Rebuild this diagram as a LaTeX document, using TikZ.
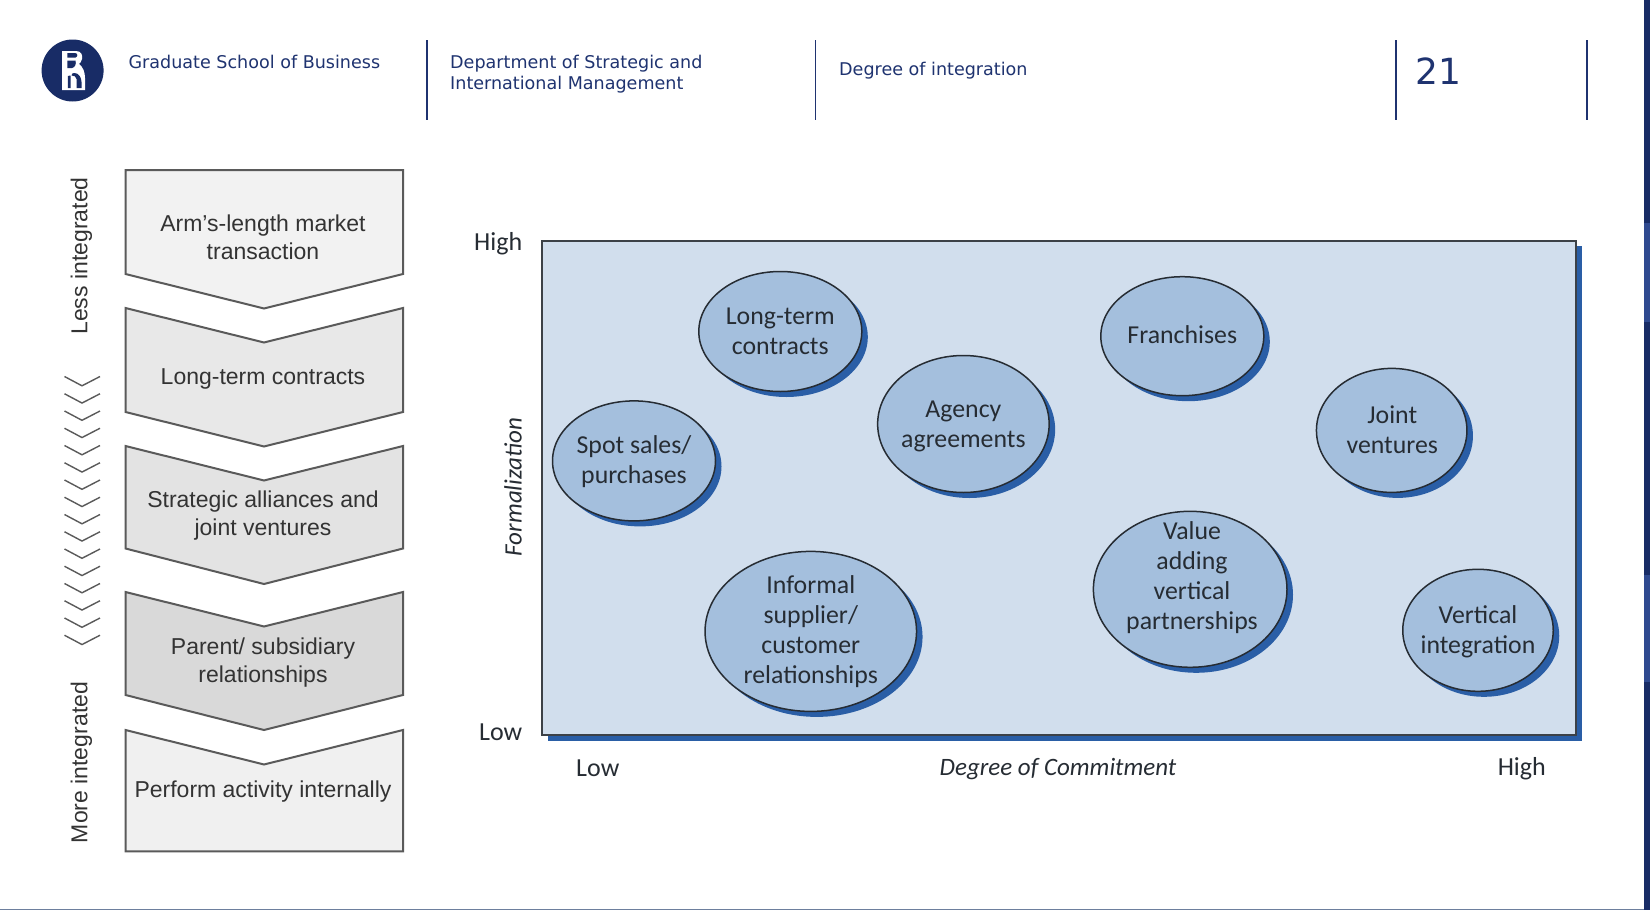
\documentclass[tikz,border=0pt]{standalone}
\usepackage{fontspec}
\setmainfont{DejaVu Sans}
\newfontfamily\arialf{Liberation Sans}
\newfontfamily\calf{Carlito}
\usetikzlibrary{shapes.geometric,shadows}
\definecolor{navy}{HTML}{182C66}
\definecolor{navylt}{HTML}{2F4A90}
\definecolor{hdr}{HTML}{1F3370}
\definecolor{edge}{HTML}{5A5A5A}
\definecolor{txtg}{HTML}{333333}
\definecolor{panel}{HTML}{D1DEED}
\definecolor{bub}{HTML}{A4BFDD}
\definecolor{bluedrop}{HTML}{2A5EA6}
\definecolor{ink}{HTML}{262C33}
\definecolor{footrule}{HTML}{6D7F9D}
\tikzset{
  x=1pt,y=-1pt,
  hdrtext/.style={inner sep=0pt,anchor=west,align=left,text=hdr,font=\fontsize{17.55}{21}\selectfont},
  rule/.style={draw=hdr,line width=1.7pt},
  chev/.style={draw=edge,line width=2pt,line join=miter},
  chevtext/.style={inner sep=0pt,align=center,text=txtg,font=\arialf\fontsize{23}{28}\selectfont},
  sidetext/.style={inner sep=0pt,text=txtg,rotate=90,font=\arialf\fontsize{23}{26}\selectfont},
  mini/.style={draw=edge,line width=1.4pt},
  bubble/.style={ellipse,draw=ink,line width=1.5pt,fill=bub,inner sep=-30pt,
    general shadow={shadow xshift=6pt,shadow yshift=-5.5pt,fill=bluedrop}},
  btext/.style={inner sep=0pt,align=center,text=ink,font=\calf\fontsize{25.8}{30}\selectfont},
  axistext/.style={inner sep=0pt,text=ink,font=\calf\fontsize{26}{30}\selectfont},
}
\begin{document}
\begin{tikzpicture}
\useasboundingbox (0,0) rectangle (1650,910);
\fill[white] (0,0) rectangle (1650,910);
% right band and bottom rule
\fill[navy] (1644,0) rectangle (1650,910);
\fill[navylt] (1644,223) rectangle (1650,322);
\fill[navylt] (1644,575) rectangle (1650,682);
\fill[footrule] (0,908.6) rectangle (1644,910);
% logo
\node[circle,fill=navy,minimum size=62pt,inner sep=0pt] (logo) at (72.6,70.5) {};
\fill[white] (62,51) -- (76,51) .. controls (81,51) and (83,55) .. (82,59) .. controls (81.5,62) and (80,63) .. (79,64)
  .. controls (83,67) and (85,72) .. (85,78) -- (85,90) -- (62,90) -- cycle;
\fill[navy] (67.3,53) -- (75,53) .. controls (78,53) and (78,57) .. (75.5,57.5) -- (67.3,57.5) -- cycle;
\fill[navy] (67.3,60.5) -- (75.5,60.5) .. controls (76.5,64) and (75,67.5) .. (72,68) -- (67.3,68) -- cycle;
\fill[navy] (67.8,76) -- (70.6,75.5) -- (70.6,88) -- (67.8,88) -- cycle;
\fill[navy] (74.5,73) .. controls (79,73) and (81.5,78) .. (81.5,82) -- (81.5,88) -- (76.5,88) -- (76.5,79) .. controls (76.5,76.5) and (74,75.5) .. (71.5,75.5) .. controls (71.5,73.5) and (73,73) .. (74.5,73) -- cycle;
% header
\node[hdrtext] (h1) at (128.4,61.5) {Graduate School of Business};
\node[hdrtext] (h2) at (450,74) {Department of Strategic and\\International Management};
\node[hdrtext] (h3) at (839,70.5) {Degree of integration};
\node[hdrtext,font=\fontsize{36}{40}\selectfont] (h4) at (1415,71) {21};
\foreach \xx in {427,815.5,1396,1587}{\draw[rule] (\xx,40) -- (\xx,120);}
% left chevrons
\draw[chev,fill=black!5] (125.5,170) -- (403,170) -- (403,274) -- (264,308.5) -- (125.5,274) -- cycle;
\draw[chev,fill=black!9] (125.5,308) -- (264,342.5) -- (403,308) -- (403,412) -- (264,446.5) -- (125.5,412) -- cycle;
\draw[chev,fill=black!11] (125.5,446) -- (264,480.5) -- (403,446) -- (403,548.5) -- (264,584) -- (125.5,548.5) -- cycle;
\draw[chev,fill=black!15] (125.5,592) -- (264,626.5) -- (403,592) -- (403,695) -- (264,730) -- (125.5,695) -- cycle;
\draw[chev,fill=black!6] (125.5,730) -- (264,764.5) -- (403,730) -- (403,851.3) -- (125.5,851.3) -- cycle;
\node[chevtext] (c1) at (263,237.5) {Arm’s-length market\\transaction};
\node[chevtext] (c2) at (263,378.5) {Long-term contracts};
\node[chevtext] (c3) at (263,516) {Strategic alliances and\\joint ventures};
\node[chevtext] (c4) at (263,662.5) {Parent/ subsidiary\\relationships};
\node[chevtext] (c5) at (263,792) {Perform activity internally};
\node[sidetext] (s1) at (81.5,256) {Less integrated};
\node[sidetext] (s2) at (81.5,762.5) {More integrated};
\foreach \i in {0,...,15}{
  \draw[mini] (64.5,376.5+17.25*\i) -- (82,385.8+17.25*\i) -- (100,376.5+17.25*\i);
}
% matrix
\fill[bluedrop] (548,246) rectangle (1581.5,741);
\draw[draw=ink!90,line width=2pt,fill=panel] (542,240.5) rectangle (1575.5,735);
\node[bubble,minimum width=163pt,minimum height=120pt] (b1) at (780.3,331.5) {};
\node[bubble,minimum width=163pt,minimum height=119pt] (b2) at (1182.3,336.2) {};
\node[bubble,minimum width=171.5pt,minimum height=137pt] (b3) at (963.4,424) {};
\node[bubble,minimum width=163pt,minimum height=120pt] (b4) at (634,460.9) {};
\node[bubble,minimum width=150.5pt,minimum height=124pt] (b5) at (1391.7,430.4) {};
\node[bubble,minimum width=211.5pt,minimum height=160pt] (b6) at (810.8,631.4) {};
\node[bubble,minimum width=193.6pt,minimum height=156pt] (b7) at (1190.2,589.3) {};
\node[bubble,minimum width=150.5pt,minimum height=122pt] (b8) at (1478,630.3) {};
\node[btext] (t1) at (780.3,331.5) {Long-term\\contracts};
\node[btext] (t2) at (1182.3,335) {Franchises};
\node[btext] (t3) at (963.4,426) {Agency\\agreements};
\node[btext] (t4) at (634,461.5) {Spot sales/\\purchases};
\node[btext] (t5) at (1392.3,430) {Joint\\ventures};
\node[btext] (t6) at (810.8,631.5) {Informal\\supplier/\\customer\\relationships};
\node[btext] (t7) at (1192,577.5) {Value\\adding\\vertical\\partnerships};
\node[btext] (t8) at (1478,631.5) {Vertical\\integration};
% axis labels
\node[axistext,anchor=east] (a1) at (522.5,244) {High};
\node[axistext,anchor=east] (a2) at (522.5,732) {Low};
\node[axistext,anchor=west] (a3) at (576,768.5) {Low};
\node[axistext,anchor=east] (a4) at (1546,768.5) {High};
\node[axistext,font=\calf\fontsize{25}{30}\selectfont] (a5) at (1058,769.5) {\itshape Degree of Commitment};
\node[axistext,rotate=90,font=\calf\fontsize{25}{30}\selectfont] (a6) at (513,487) {\itshape Formalization};
\end{tikzpicture}
\end{document}
